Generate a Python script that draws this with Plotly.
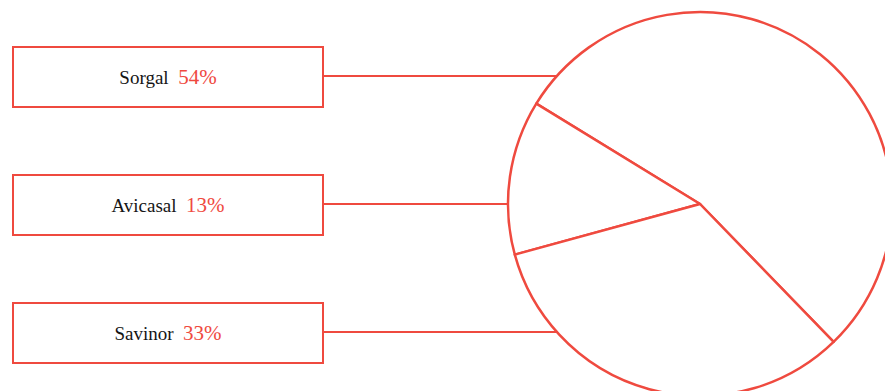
import plotly.graph_objects as go

RED = "#ef4a3f"

labels = ["Sorgal", "Avicasal", "Savinor"]
shares = [54, 13, 33]

# pie geometry in page pixels; the circle runs past the right and bottom edges
CX, CY, R = 700, 204, 192
W, H = 900, 400

fig = go.Figure()
fig.add_trace(
    go.Pie(
        labels=labels,
        values=shares,
        sort=False,
        direction="counterclockwise",
        rotation=-58.5,
        textinfo="none",
        hoverinfo="label+percent",
        marker=dict(colors=["#ffffff"] * 3, line=dict(color=RED, width=2.5)),
        showlegend=False,
    )
)

# label boxes on the left, one per slice, with connector to the circle edge
box_y = [CY - 128, CY, CY + 128]
box_l, box_r = 12, 324
pw = 2 * R


def px(x):
    return (x - (CX - R)) / pw


def py(y):
    return 1 - (y - (CY - R)) / pw


for name, pct, y in zip(labels, shares, box_y):
    x_edge = CX - (R**2 - (y - CY) ** 2) ** 0.5
    fig.add_annotation(
        xref="paper", yref="paper",
        x=px((box_l + box_r) / 2), y=py(y + 1),
        text=f"{name}  <span style='color:{RED};font-size:21px'>{pct}%</span>",
        showarrow=False,
        width=308, height=58,
        bordercolor=RED, borderwidth=2, borderpad=0,
        font=dict(family="Liberation Serif", size=19, color="#151515"),
        xanchor="center", yanchor="middle",
    )
    fig.add_shape(
        type="line", xref="paper", yref="paper",
        x0=px(box_r), x1=px(x_edge),
        y0=py(y), y1=py(y),
        line=dict(color=RED, width=2),
    )

fig.update_layout(
    width=W,
    height=H,
    margin=dict(l=CX - R, r=W - CX - R, t=CY - R, b=H - CY - R, autoexpand=False),
    paper_bgcolor="white",
    plot_bgcolor="white",
)

# no page margin / scrollbars so the circle is cut by the window edge
fig.write_html(
    "out.html",
    config={"displayModeBar": False},
    post_script="document.body.style.margin='0';document.body.style.overflow='hidden';",
)
